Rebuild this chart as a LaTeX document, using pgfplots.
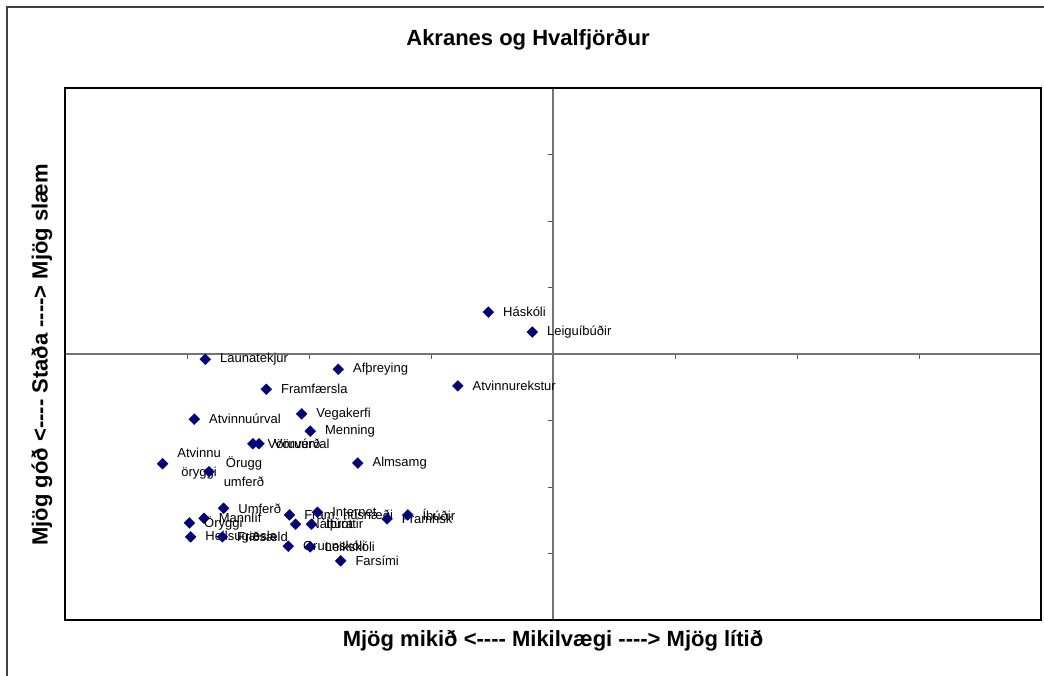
\documentclass[border=0pt]{standalone}
\usepackage{fontspec}
\setmainfont{Liberation Sans}
\usepackage{pgfplots}
\pgfplotsset{compat=1.18}
\definecolor{navy}{RGB}{0,0,128}
\protected\def\lblAO{Atvinnu\\[3pt]öryggi}
\protected\def\lblOU{Örugg\\[3pt]umferð}
\begin{document}
\begin{tikzpicture}
\useasboundingbox (0,0) rectangle (783pt,506.25pt);
\draw[line width=1.2pt, color=black!75] (5.25pt,-2pt) -- (5.25pt,501pt) -- (790pt,501pt);
\node[font=\bfseries\fontsize{16.5}{19}\selectfont] at (396pt,476.25pt) {Akranes og Hvalfjörður};
\node[font=\bfseries\fontsize{16.5}{19}\selectfont] at (414.75pt,25.5pt) {Mjög mikið <-{}-{}-{}- Mikilvægi -{}-{}-{}-> Mjög lítið};
\node[font=\bfseries\fontsize{16.5}{19}\selectfont, rotate=90] at (31.5pt,240pt) {Mjög góð <-{}-{}-{}- Staða -{}-{}-{}-> Mjög slæm};
\begin{axis}[
  at={(48.75pt,41.25pt)}, anchor=south west,
  scale only axis, width=732pt, height=399pt,
  xmin=-4, xmax=4, ymin=-4, ymax=4,
  axis lines=middle,
  axis line style={-, draw=black!55, line width=0.8pt},
  xtick={-3,-2,-1,1,2,3}, ytick={-3,-2,-1,1,2,3},
  xticklabels={}, yticklabels={},
  tick align=outside, major tick length=4pt,
  tick style={black!65, line width=0.6pt},
  clip=false,
  extra description/.code={\draw[black, line width=0.8pt] (rel axis cs:0,0) rectangle (rel axis cs:1,1);},
]
\addplot[only marks, mark=square*, mark size=2.9pt,
  mark options={rotate=45, fill=navy, draw=navy, line width=0.2pt},
  point meta=explicit symbolic,
  nodes near coords,
  nodes near coords style={anchor=west, inner sep=0pt, xshift=11pt, align=center,
     font=\fontsize{9.75}{11.5}\selectfont, text=black}]
coordinates {
(-2.85,-0.08) [Launatekjur]
(-1.76,-0.23) [Afþreying]
(-2.35,-0.53) [Framfærsla]
(-2.94,-0.98) [Atvinnuúrval]
(-2.06,-0.90) [Vegakerfi]
(-1.99,-1.16) [Menning]
(-2.46,-1.35) [Vöruverð]
(-2.41,-1.35) [Vöruúrval]
(-3.20,-1.65) [\lblAO]
(-1.60,-1.64) [Almsamg]
(-2.82,-1.77) [\lblOU]
(-2.70,-2.32) [Umferð]
(-2.86,-2.47) [Mannlíf]
(-2.98,-2.54) [Öryggi]
(-2.97,-2.75) [Heilsugæsla]
(-2.71,-2.75) [Friðsæld]
(-2.16,-2.42) [Fram. húsnæði]
(-2.11,-2.56) [Náttúra]
(-1.98,-2.56) [Íþróttir]
(-1.93,-2.38) [Internet]
(-1.36,-2.48) [Framhsk]
(-1.19,-2.42) [Íbúðir]
(-2.17,-2.89) [Grunnskóli]
(-1.99,-2.90) [Leikskóli]
(-1.74,-3.11) [Farsími]
(-0.53,0.63) [Háskóli]
(-0.17,0.33) [Leiguíbúðir]
(-0.78,-0.48) [Atvinnurekstur]
};
\end{axis}
\end{tikzpicture}
\end{document}
